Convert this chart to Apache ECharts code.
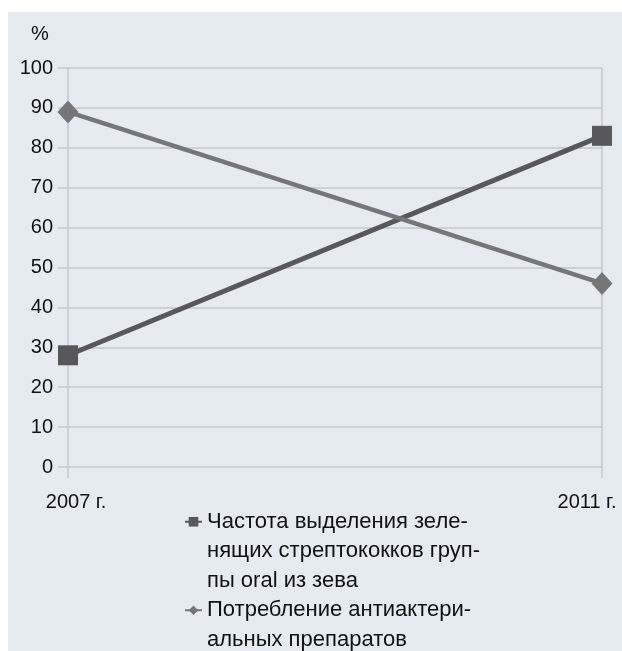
<!DOCTYPE html>
<html>
<head>
<meta charset="utf-8">
<script src="https://cdn.jsdelivr.net/npm/echarts@6/dist/echarts.min.js"></script>
<style>
    html, body { margin: 0; padding: 0; background: #fff; }
    #chart { width: 622px; height: 651px; }
</style>
</head>
<body>
<div id="chart"></div>
<script>
var years = ['2007 г.', '2011 г.'];
var streptoValues = [28, 83];
var antibioticValues = [89, 46];
var seriesNames = [
    'Частота выделения зеле-\nнящих стрептококков груп-\nпы oral из зева',
    'Потребление антиактери-\nальных препаратов'
];

!function(win){
    var font = '"Liberation Sans", Arial, sans-serif';
    var gridColor = '#c3c7ce';
    var lineH = 29.5;

    // legend icon sits on the first text line: pad the text with empty lines on top
    function legendText(name){
        var lines = name.split('\n').length;
        var pad = '';
        for (var i = 1; i < lines; i++) pad += '\n';
        return pad + name;
    }

    var chrt = echarts.init(document.getElementById('chart'));
    var option = {
        animation: false,
        textStyle: { fontFamily: font },
        graphic: [{
            type: 'rect',
            z: -10,
            shape: { x: 8, y: 12, width: 614, height: 639 },
            style: { fill: '#e6eaf1' }
        }],
        title: {
            text: '%',
            left: 31,
            top: 24,
            padding: 0,
            textStyle: { fontFamily: font, fontSize: 20, fontWeight: 'normal', color: '#111' }
        },
        grid: { left: 68, right: 20, top: 68, bottom: 184, outerBoundsMode: 'none', containLabel: false },
        legend: {
            orient: 'vertical',
            left: 184,
            top: 448,
            height: 200,
            padding: 0,
            itemGap: -lineH,
            itemWidth: 17,
            itemHeight: 12,
            formatter: legendText,
            textStyle: { fontFamily: font, fontSize: 22, color: '#111', lineHeight: lineH },
            data: seriesNames
        },
        xAxis: {
            type: 'category',
            boundaryGap: false,
            data: [
                { value: years[0], textStyle: { padding: [0, 0, 0, 16] } },
                { value: years[1], textStyle: { padding: [0, 30, 0, 0] } }
            ],
            axisLine: { show: false },
            axisTick: { show: true, length: 11, alignWithLabel: true, lineStyle: { color: gridColor, width: 1.5 } },
            splitLine: { show: true, lineStyle: { color: gridColor, width: 1.5 } },
            axisLabel: {
                fontFamily: font,
                fontSize: 20,
                color: '#111',
                margin: 25
            }
        },
        yAxis: {
            type: 'value',
            min: 0,
            max: 100,
            interval: 10,
            axisLine: { show: false },
            axisTick: { show: true, length: 10, lineStyle: { color: gridColor, width: 1.5 } },
            splitLine: { show: true, lineStyle: { color: gridColor, width: 1.5 } },
            axisLabel: { fontFamily: font, fontSize: 20, color: '#111', margin: 15 }
        },
        series: [
            {
                name: seriesNames[0],
                type: 'line',
                data: streptoValues,
                symbol: 'rect',
                symbolSize: 20,
                lineStyle: { color: '#58585a', width: 5 },
                itemStyle: { color: '#58585a' }
            },
            {
                name: seriesNames[1],
                type: 'line',
                data: antibioticValues,
                symbol: 'diamond',
                symbolSize: [21, 23],
                lineStyle: { color: '#767679', width: 4.5 },
                itemStyle: { color: '#767679' }
            }
        ]
    };
    chrt.setOption(option);
}(window);
</script>
</body>
</html>
